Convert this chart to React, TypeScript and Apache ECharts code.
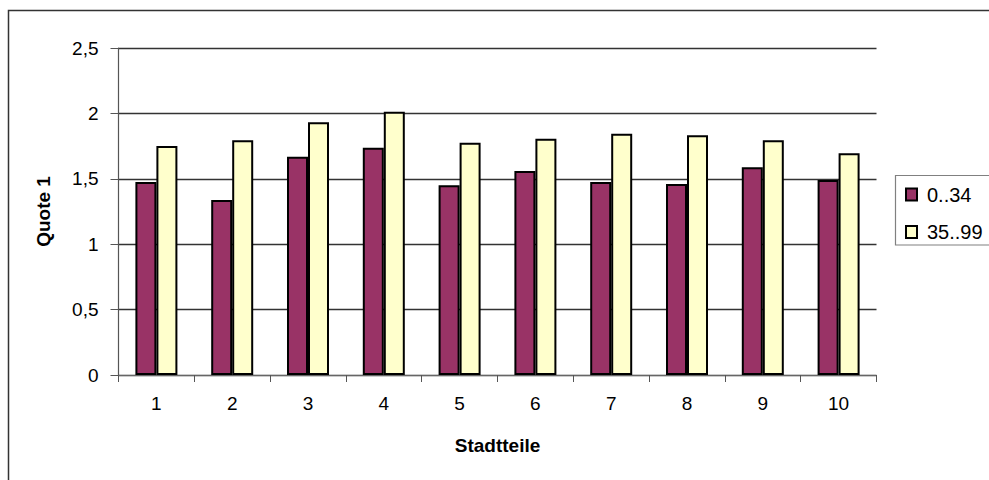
import React, { useEffect, useRef } from "react";
import * as echarts from "echarts";

const categories = ["1", "2", "3", "4", "5", "6", "7", "8", "9", "10"];
const seriesNames = ["0..34", "35..99"];
const valuesLow = [1.476, 1.338, 1.669, 1.738, 1.45, 1.56, 1.476, 1.46, 1.588, 1.491];
const valuesHigh = [1.751, 1.794, 1.932, 2.013, 1.776, 1.807, 1.845, 1.833, 1.794, 1.695];
const yTicks = [0, 0.5, 1, 1.5, 2, 2.5];

const FONT = '"Liberation Sans", Arial, Helvetica, sans-serif';

export default function App() {
  const ref = useRef<HTMLDivElement>(null);
  useEffect(() => {
    if (!ref.current) return;
    const chart = echarts.init(ref.current, null, { renderer: "svg" });
    chart.setOption({
      animation: false,
      backgroundColor: "#ffffff",
      textStyle: { fontFamily: FONT },
      grid: { left: 118.5, top: 48, width: 758, height: 327, containLabel: false },
      graphic: [
        {
          type: "rect",
          shape: { x: 8.5, y: 10.5, width: 1000, height: 500 },
          style: { fill: "none", stroke: "#333333", lineWidth: 1.5 },
          z: 10,
        },
        {
          type: "rect",
          shape: { x: 895.5, y: 175.5, width: 120, height: 69.5 },
          style: { fill: "none", stroke: "#808080", lineWidth: 1.2 },
          z: 10,
        },
      ],
      legend: {
        orient: "vertical",
        left: 905,
        top: 184.5,
        padding: 0,
        itemWidth: 11,
        itemHeight: 12,
        itemGap: 17.5,
        icon: "rect",
        textStyle: {
          fontFamily: FONT,
          fontSize: 20,
          color: "#000",
          lineHeight: 20,
          padding: [0, 0, 0, 5],
        },
        data: seriesNames,
      },
      xAxis: {
        type: "category",
        data: categories,
        name: "Stadtteile",
        nameLocation: "middle",
        nameGap: 61,
        nameTextStyle: { fontFamily: FONT, fontSize: 19, fontWeight: "bold", color: "#000" },
        axisLine: { show: true, lineStyle: { color: "#666", width: 1.2 } },
        axisTick: { show: true, length: 7, lineStyle: { color: "#555", width: 1 } },
        axisLabel: { fontFamily: FONT, fontSize: 19, color: "#000", margin: 19 },
        splitLine: { show: false },
      },
      yAxis: {
        type: "value",
        min: 0,
        max: 2.5,
        interval: 0.5,
        name: "Quote 1",
        nameLocation: "middle",
        nameGap: 66,
        nameTextStyle: { fontFamily: FONT, fontSize: 19, fontWeight: "bold", color: "#000" },
        axisLine: { show: true, lineStyle: { color: "#555", width: 1.2 } },
        axisTick: { show: true, length: 8, lineStyle: { color: "#555", width: 1 } },
        axisLabel: {
          fontFamily: FONT,
          fontSize: 19,
          color: "#000",
          margin: 20,
          formatter: (v: number) =>
            yTicks.includes(v) ? String(v).replace(".", ",") : "",
        },
        splitLine: { show: true, lineStyle: { color: "#333333", width: 1.3 } },
      },
      series: [
        {
          name: seriesNames[0],
          type: "bar",
          data: valuesLow,
          barWidth: 21,
          barGap: "0%",
          itemStyle: { color: "#993366", borderColor: "#000", borderWidth: 2 },
        },
        {
          name: seriesNames[1],
          type: "bar",
          data: valuesHigh,
          barWidth: 21,
          barGap: "0%",
          itemStyle: { color: "#FFFFCC", borderColor: "#000", borderWidth: 2 },
        },
      ],
    });
    return () => chart.dispose();
  }, []);
  return (
    <div
      ref={ref}
      style={{ position: "fixed", left: 0, top: 0, width: 989, height: 480 }}
    />
  );
}
